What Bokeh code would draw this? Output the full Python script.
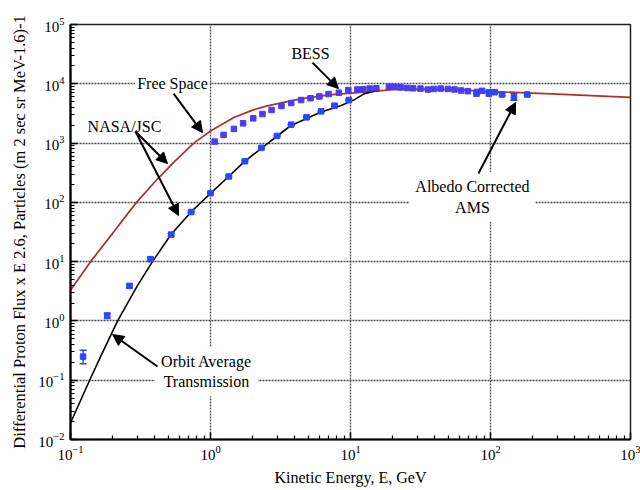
from bokeh.plotting import figure
from bokeh.models import (Range1d, FixedTicker, Label, Arrow, NormalHead, Whisker,
                          ColumnDataSource, TeeHead)
from bokeh.embed import file_html
from bokeh.resources import INLINE

# ---------------- data ----------------
# Free Space spectrum (red)
free_E = [0.1, 0.139, 0.2, 0.296, 0.416, 0.55, 0.76, 1.0, 1.47, 2.0, 2.54, 4.4, 7.0, 11.8, 20, 35, 60, 100, 164, 300, 1000]
free_F = [3.3, 10, 30, 100, 245, 480, 1000, 1600, 2700, 3600, 4250, 5560, 6500, 7190, 8000, 8150, 7900, 7400, 7100, 6700, 5900]

# Orbit Average Transmission (black)
orbit_E = [0.1, 0.137, 0.164, 0.217, 0.3, 0.385, 0.524, 0.727, 1.0, 1.35, 1.73, 2.28, 3.73, 6.1, 8.5, 10.6, 12.4, 14.5, 16.0]
orbit_F = [0.019, 0.1, 0.25, 1.0, 3.9, 10, 29, 69, 142, 273, 477, 795, 1960, 3300, 4270, 5350, 6700, 7400, 7700]

# NASA/JSC data (lower set)
jsc_E = [0.123, 0.183, 0.264, 0.373, 0.524, 0.727, 1.0, 1.35, 1.76, 2.31, 2.99, 3.77, 4.85, 6.17, 7.69, 9.73]
jsc_F = [0.25, 1.23, 3.9, 11, 28.6, 68.7, 143, 273, 494, 830, 1320, 2046, 2716, 3425, 4270, 5320]
jsc_lo = [0.19, 1.1, 3.6, 10.2, 27, 66, 138, 265, 480, 810, 1290, 2000, 2660, 3360, 4190, 5220]
jsc_hi = [0.32, 1.35, 4.2, 11.8, 30, 71, 148, 281, 508, 850, 1350, 2090, 2770, 3490, 4350, 5420]

# NASA/JSC free-space set + BESS
bess_E = [1.07, 1.24, 1.47, 1.71, 2.02, 2.35, 2.73, 3.21, 3.77, 4.44, 5.18, 6.0, 6.97, 8.26, 9.64, 11.2,
          12.3, 13.7, 15.3, 18.8, 20.6, 22.8, 25.4, 28.0, 31.6, 35.7, 39.4, 44, 49.6, 55.3, 61.7, 68.9, 79.4, 87.2, 97.3]
bess_F = [1060, 1372, 1733, 2152, 2612, 3092, 3615, 4220, 4740, 5320, 5700, 6120, 6710, 7060, 7830, 8020,
          8100, 8300, 8400, 8900, 8900, 8700, 8500, 8400, 8300, 8000, 8200, 8300, 8200, 8000, 7700, 7500, 6800, 7600, 6800]

# Albedo corrected AMS
ams_E = [80, 98, 107, 121, 147, 183]
ams_F = [7300, 7200, 7200, 6600, 6000, 6600]
ams_lo = [7000, 6900, 6900, 6300, 5300, 6300]
ams_hi = [7600, 7500, 7500, 6900, 6900, 6900]

x_major = [0.1, 1, 10, 100, 1000]
y_major = [1e-2, 1e-1, 1, 10, 100, 1e3, 1e4, 1e5]

SERIF = "Liberation Serif"

# ---------------- figure ----------------
p = figure(width=640, height=490, x_axis_type="log", y_axis_type="log",
           x_range=Range1d(0.1, 1000), y_range=Range1d(0.01, 1e5),
           output_backend="svg", toolbar_location=None,
           min_border_left=70, min_border_right=10, min_border_top=24, min_border_bottom=51,
           background_fill_color="white", border_fill_color="white")

x_minor = [m * t for t in x_major[:-1] for m in range(2, 10)]
y_minor = [m * t for t in y_major[:-1] for m in range(2, 10)]
p.xaxis.ticker = FixedTicker(ticks=x_major, minor_ticks=x_minor)
p.yaxis.ticker = FixedTicker(ticks=y_major, minor_ticks=y_minor)

for ax in (p.xaxis, p.yaxis):
    ax.axis_line_width = 2.2
    ax.axis_line_color = "black"
    ax.major_tick_in = 7
    ax.major_tick_out = 0
    ax.minor_tick_in = 4
    ax.minor_tick_out = 0
    ax.major_tick_line_width = 1.5
    ax.minor_tick_line_width = 1.2
    ax.major_tick_line_color = "black"
    ax.minor_tick_line_color = "black"
    ax.major_label_text_font = SERIF
    ax.major_label_text_font_size = "15px"
    ax.major_label_text_color = "black"
    ax.axis_label_text_font = SERIF
    ax.axis_label_text_font_style = "normal"
    ax.axis_label_text_color = "black"
    ax.major_label_standoff = 6

p.xaxis.axis_label = "Kinetic Energy, E, GeV"
p.xaxis.axis_label_text_font_size = "16px"
p.xaxis.axis_label_standoff = 6
p.yaxis.axis_label = "Differential Proton Flux x E 2.6, Particles (m 2 sec sr MeV-1.6)-1"
p.yaxis.axis_label_text_font_size = "16.5px"
p.yaxis.axis_label_standoff = 6

for g in (p.xgrid, p.ygrid):
    g.grid_line_color = "#4a4a4a"
    g.grid_line_dash = "2 1"
    g.grid_line_width = 1.3

p.outline_line_color = "#222222"
p.outline_line_width = 1.5

# ---------------- curves ----------------
p.line(free_E, free_F, line_color="#a8322d", line_width=1.7)
p.line(orbit_E, orbit_F, line_color="black", line_width=1.6)

# ---------------- data points ----------------
jsc_src = ColumnDataSource(dict(x=jsc_E, y=jsc_F, lo=jsc_lo, hi=jsc_hi))
ams_src = ColumnDataSource(dict(x=ams_E, y=ams_F, lo=ams_lo, hi=ams_hi))

for src, col in ((jsc_src, "#2a46ff"), (ams_src, "#2a46ff")):
    w = Whisker(source=src, base="x", lower="lo", upper="hi", dimension="height",
                line_color=col, line_width=1.5,
                upper_head=TeeHead(size=7, line_color=col, line_width=1.5),
                lower_head=TeeHead(size=7, line_color=col, line_width=1.5))
    p.add_layout(w)

p.scatter("x", "y", source=jsc_src, marker="square", size=5.5, fill_color="#2a46ff", line_color="#2a46ff")
p.scatter(bess_E, bess_F, marker="square", size=5.5, fill_color="#4b3cf0", line_color="#4b3cf0")
p.scatter("x", "y", source=ams_src, marker="square", size=5.5, fill_color="#2a46ff", line_color="#2a46ff")

# ---------------- annotations ----------------
def lab(x, y, text, pad):
    p.add_layout(Label(x=x, y=y, text=text, text_align="center", text_baseline="middle",
                       text_font=SERIF, text_font_size="16px", text_color="black",
                       background_fill_color="white", padding=pad))

lab(0.535, 1e4, "Free Space", 2)
lab(0.243, 1900, "NASA/JSC", 0)
lab(5.18, 33000, "BESS", 0)
lab(0.936, 0.14, "Orbit Average\nTransmission", 6)
lab(74.3, 123, "Albedo Corrected\nAMS", 6)

def arrow(x0, y0, x1, y1):
    p.add_layout(Arrow(end=NormalHead(size=11, fill_color="black", line_color="black"),
                       x_start=x0, y_start=y0, x_end=x1, y_end=y1,
                       line_color="black", line_width=2))

arrow(0.545, 6840, 0.877, 1503)      # Free Space
arrow(0.291, 1563, 0.493, 451)       # NASA/JSC -> free space set
arrow(0.291, 1563, 0.591, 60)        # NASA/JSC -> orbit set
arrow(5.35, 22780, 8.2, 8300)        # BESS
arrow(82, 306, 151, 4820)            # AMS
arrow(0.418, 0.17, 0.2, 0.59)        # Orbit Average Transmission

open("out.html", "w").write(file_html(p, INLINE))
